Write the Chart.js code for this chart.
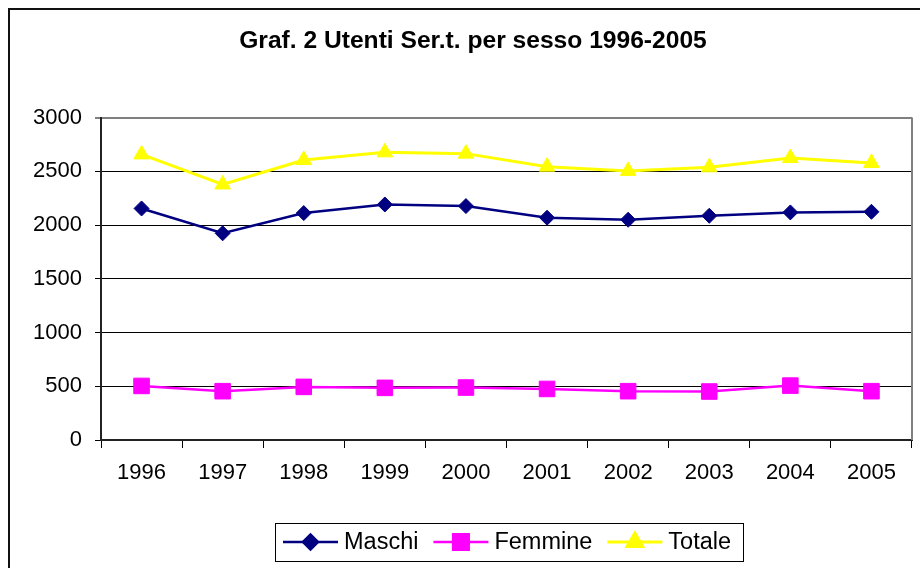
<!DOCTYPE html>
<html><head><meta charset="utf-8">
<script src="https://cdn.jsdelivr.net/npm/chart.js@4/dist/chart.umd.min.js"></script>
<style>html,body{margin:0;padding:0;background:#fff}#wrap{width:920px;height:568px;position:relative}</style>
</head><body><div id="wrap"><canvas id="c" width="920" height="568"></canvas></div>
<script>
const years = ['1996','1997','1998','1999','2000','2001','2002','2003','2004','2005'];
const maschi = [2154,1923,2111,2191,2176,2068,2049,2086,2117,2123];
const femmine = [503,454,494,485,488,475,454,451,506,454];
const totale = [2657,2377,2605,2676,2664,2543,2503,2537,2623,2577];
const yTicks = [0,500,1000,1500,2000,2500,3000];
const seriesNames = ['Maschi','Femmine','Totale'];
const titleText = 'Graf. 2 Utenti Ser.t. per sesso 1996-2005';

const FONT = "'Liberation Sans', Arial, sans-serif";
Chart.defaults.font.family = FONT;
Chart.defaults.color = '#000';

function marker(ctx, style, r, x, y) {
  if (Chart.helpers && Chart.helpers.drawPoint) {
    Chart.helpers.drawPoint(ctx, {pointStyle: style, radius: r, borderWidth: 1, rotation: 0}, x, y);
  }
}

const frame = {
  id: 'frame',
  beforeDraw(chart) {
    const c = chart.ctx;
    c.save(); c.fillStyle = '#fff'; c.fillRect(0, 0, chart.width, chart.height); c.restore();
  },
  afterDraw(chart) {
    const c = chart.ctx, a = chart.chartArea;
    c.save();
    // outer chart border (continues past the canvas right/bottom)
    c.strokeStyle = '#111'; c.lineWidth = 2;
    c.beginPath(); c.moveTo(9, chart.height + 2); c.lineTo(9, 9); c.lineTo(chart.width + 2, 9); c.stroke();
    // plot area right border
    c.strokeStyle = '#808080'; c.lineWidth = 2;
    c.beginPath(); c.moveTo(a.right, a.top); c.lineTo(a.right, a.bottom); c.stroke();
    // legend
    c.font = '23.5px ' + FONT;
    const ds = chart.data.datasets;
    const lineLen = 55, gap1 = 6, gap2 = 15, padL = 8, padR = 12;
    const widths = ds.map(d => c.measureText(d.label).width);
    let total = padL + padR;
    widths.forEach((w, i) => { total += lineLen + gap1 + w + (i ? gap2 : 0); });
    const boxL = Math.round(509 - total / 2), boxT = 523.5, boxH = 38;
    c.strokeStyle = '#000'; c.lineWidth = 1;
    c.strokeRect(boxL + 0.5, boxT, Math.round(total), boxH);
    let x = boxL + padL;
    const cy = 542;
    ds.forEach((d, i) => {
      c.strokeStyle = d.borderColor; c.lineWidth = d.borderWidth;
      c.beginPath(); c.moveTo(x, cy); c.lineTo(x + lineLen, cy); c.stroke();
      c.fillStyle = d.pointBackgroundColor; c.strokeStyle = d.pointBorderColor;
      marker(c, d.pointStyle, d.pointRadius, x + lineLen / 2, cy);
      c.fillStyle = '#000'; c.textBaseline = 'middle'; c.textAlign = 'left';
      c.fillText(d.label, x + lineLen + gap1, cy + 1);
      x += lineLen + gap1 + widths[i] + gap2;
    });
    c.restore();
  }
};

new Chart(document.getElementById('c'), {
  type: 'line',
  data: {
    labels: years,
    datasets: [
      {label: seriesNames[0], data: maschi, borderColor: '#000080', borderWidth: 2.5,
       pointStyle: 'rectRot', pointRadius: 7.5, pointBackgroundColor: '#000080', pointBorderColor: '#000080', pointBorderWidth: 1, tension: 0},
      {label: seriesNames[1], data: femmine, borderColor: '#FF00FF', borderWidth: 2.5,
       pointStyle: 'rect', pointRadius: 11, pointBackgroundColor: '#FF00FF', pointBorderColor: '#FF00FF', pointBorderWidth: 1, tension: 0},
      {label: seriesNames[2], data: totale, borderColor: '#FFFF00', borderWidth: 3,
       pointStyle: 'triangle', pointRadius: 9, pointBackgroundColor: '#FFFF00', pointBorderColor: '#FFFF00', pointBorderWidth: 1, tension: 0}
    ]
  },
  options: {
    responsive: false,
    devicePixelRatio: 1,
    animation: false,
    layout: {autoPadding: false, padding: {left: 34, right: 8, top: 0, bottom: 0}},
    plugins: {
      legend: {display: false},
      tooltip: {enabled: false},
      title: {display: true, text: titleText, color: '#000',
        font: {size: 24.6, weight: 'bold', family: FONT}, padding: {top: 26, bottom: 62}}
    },
    scales: {
      x: {
        offset: true,
        grid: {display: true, drawOnChartArea: false, drawTicks: true, tickLength: 8, offset: true, color: '#000', lineWidth: 1},
        border: {display: true, color: '#222', width: 2},
        ticks: {font: {size: 22}, color: '#000', padding: 12, maxRotation: 0, autoSkip: false},
        afterFit(s) { s.height = 128; s.paddingLeft = 0; s.paddingRight = 0; }
      },
      y: {
        min: 0, max: 3000,
        afterBuildTicks(s) { s.ticks = yTicks.map(v => ({value: v})); },
        grid: {color: c => (c.tick && c.tick.value === 3000) ? '#808080' : '#000', lineWidth: c => (c.tick && c.tick.value === 3000) ? 2 : 1, tickLength: 6, drawTicks: true},
        border: {display: true, color: '#222', width: 2},
        ticks: {font: {size: 22}, color: '#000', padding: 13, callback: v => String(v)},
        afterFit(s) { s.width = 67; }
      }
    }
  },
  plugins: [frame]
});
</script></body></html>
